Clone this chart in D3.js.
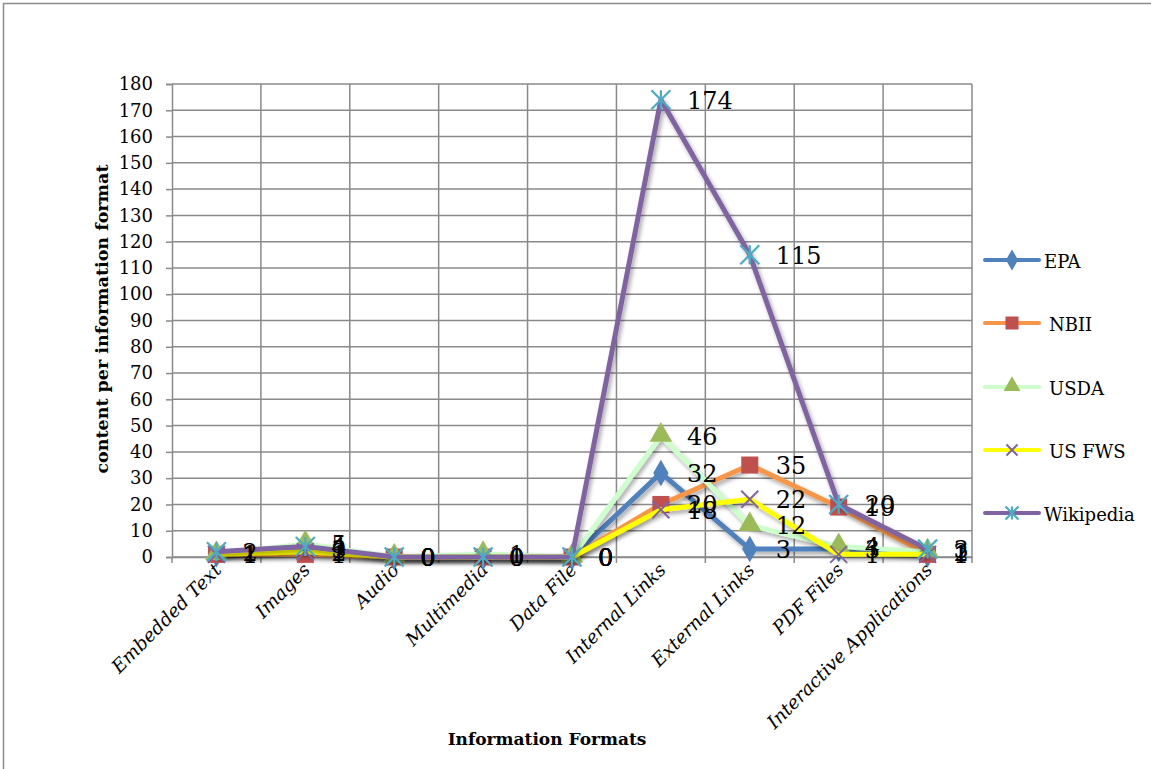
<!DOCTYPE html>
<html><head><meta charset="utf-8">
<script src="https://cdn.jsdelivr.net/npm/d3@7"></script>
<style>html,body{margin:0;padding:0;background:#fff;}svg{display:block;}</style>
</head><body>
<svg id="chart" width="1151" height="769"></svg>
<script>
const categories = ["Embedded Text","Images","Audio","Multimedia","Data File","Internal Links","External Links","PDF Files","Interactive Applications"];
const epa       = [1, 3, 0, 0, 0, 32, 3, 3, 1];
const nbii      = [1, 1, 0, 0, 0, 20, 35, 19, 1];
const usda      = [1, 5, 0, 1, 0, 46, 12, 4, 2];
const usfws     = [1, 2, 0, 0, 0, 18, 22, 1, 1];
const wikipedia = [2, 4, 0, 0, 0, 174, 115, 20, 3];
const yTicks = [0,10,20,30,40,50,60,70,80,90,100,110,120,130,140,150,160,170,180];

const series = [
  {name:"EPA", values:epa, line:"#4F81BD", mfill:"#4F81BD", marker:"diamond"},
  {name:"NBII", values:nbii, line:"#F79646", mfill:"#C0504D", marker:"square"},
  {name:"USDA", values:usda, line:"#CCFFCC", mfill:"#9BBB59", marker:"triangle"},
  {name:"US FWS", values:usfws, line:"#FFFF00", mfill:"#8064A2", marker:"x"},
  {name:"Wikipedia", values:wikipedia, line:"#8064A2", mfill:"#4BACC6", marker:"star"}
];

const svg = d3.select("#chart");
const font = "'DejaVu Serif', serif";
const L = 172, R = 972, T = 84, B = 557;

const defs = svg.append("defs");
const f = defs.append("filter").attr("id","sh").attr("x","-20%").attr("y","-20%").attr("width","140%").attr("height","140%");
f.append("feDropShadow").attr("dx",2).attr("dy",3).attr("stdDeviation",2.2).attr("flood-color","#000").attr("flood-opacity",0.35);

// outer border
svg.append("rect").attr("x",3.5).attr("y",3.5).attr("width",1200).attr("height",900)
  .attr("fill","none").attr("stroke","#8c8c8c").attr("stroke-width",1.5);

const x = d3.scaleBand().domain(categories).range([L,R]);
const y = d3.scaleLinear().domain([0,180]).range([B,T]);
const cx = c => x(c) + x.bandwidth()/2;

const grid = svg.append("g").attr("stroke","#8a8a8a").attr("stroke-width",1.5);
yTicks.forEach(t => grid.append("line").attr("x1",L).attr("x2",R).attr("y1",y(t)).attr("y2",y(t)));
categories.forEach(c => grid.append("line").attr("x1",x(c)+x.bandwidth()).attr("x2",x(c)+x.bandwidth()).attr("y1",T).attr("y2",B+6));

// y axis
const ya = svg.append("g").attr("transform",`translate(${L},0)`)
  .call(d3.axisLeft(y).tickValues(yTicks).tickSize(6).tickPadding(13));
ya.select(".domain").attr("stroke","#8a8a8a").attr("stroke-width",1.5);
ya.selectAll(".tick line").attr("stroke","#8a8a8a").attr("stroke-width",1.5);
ya.selectAll(".tick text").attr("font-family",font).attr("font-size",18).attr("fill","#000");

// x axis
const xa = svg.append("g").attr("transform",`translate(0,${B})`).call(d3.axisBottom(x).tickSize(0).tickFormat(""));
xa.select(".domain").attr("stroke","#8a8a8a").attr("stroke-width",1.5);
svg.append("line").attr("x1",L).attr("x2",L).attr("y1",B).attr("y2",B+6).attr("stroke","#8a8a8a").attr("stroke-width",1.5);

svg.append("g").selectAll("text").data(categories).join("text")
  .attr("transform", d => `translate(${cx(d)+6},${B+14}) rotate(-45)`)
  .attr("text-anchor","end").attr("font-family",font).attr("font-style","italic")
  .attr("font-size",18.5).attr("fill","#000").text(d => d);

// axis titles
svg.append("text").attr("x",547).attr("y",745).attr("text-anchor","middle")
  .attr("font-family",font).attr("font-weight","bold").attr("font-size",17).text("Information Formats");
svg.append("text").attr("transform","translate(108,319) rotate(-90)").attr("text-anchor","middle")
  .attr("font-family",font).attr("font-weight","bold").attr("font-size",17.5).text("content per information format");

function marker(g, type, fill, px, py, s) {
  if (type==="diamond") g.append("path").attr("d", d3.symbol(d3.symbolDiamond, s*s*0.9)()).attr("transform",`translate(${px},${py})`).attr("fill",fill);
  else if (type==="square") g.append("rect").attr("x",px-s/2).attr("y",py-s/2).attr("width",s).attr("height",s).attr("fill",fill);
  else if (type==="triangle") g.append("path").attr("d", d3.symbol(d3.symbolTriangle, s*s*0.55)()).attr("transform",`translate(${px},${py-1})`).attr("fill",fill);
  else if (type==="x") {
    const h = s/2;
    g.append("path").attr("d",`M${px-h},${py-h}L${px+h},${py+h}M${px-h},${py+h}L${px+h},${py-h}`)
      .attr("stroke",fill).attr("stroke-width",2).attr("fill","none");
  }
  else if (type==="star") {
    const h = s/2;
    const p = `M${px-h},${py-h}L${px+h},${py+h}M${px-h},${py+h}L${px+h},${py-h}M${px},${py-h}L${px},${py+h}`;
    g.append("path").attr("d",p).attr("stroke",fill).attr("stroke-width",2.2).attr("fill","none");
  }
}
const msize = {diamond:15, square:17, triangle:20, x:17, star:19};

const line = d3.line().x((d,i)=>cx(categories[i])).y(d=>y(d));
series.forEach(s => {
  const g = svg.append("g");
  g.append("path").datum(s.values).attr("d",line).attr("fill","none")
    .attr("stroke",s.line).attr("stroke-width",5).attr("stroke-linejoin","round").attr("filter","url(#sh)");
  s.values.forEach((v,i) => marker(g, s.marker, s.mfill, cx(categories[i]), y(v), msize[s.marker]));
});
// data labels
series.forEach(s => {
  svg.append("g").selectAll("text").data(s.values).join("text")
    .attr("x",(d,i)=>cx(categories[i])+26).attr("y",d=>y(d)+1)
    .attr("dominant-baseline","central").attr("font-family",font).attr("font-size",24)
    .attr("fill","#000").text(d=>d);
});

// legend
const lg = svg.append("g");
const ly = [260,323,387,450,513];
const lsize = {diamond:12, square:13, triangle:15, x:11, star:13};
series.forEach((s,i) => {
  lg.append("line").attr("x1",985).attr("x2",1039).attr("y1",ly[i]).attr("y2",ly[i])
    .attr("stroke",s.line).attr("stroke-width",4).attr("stroke-linecap","round");
  marker(lg, s.marker, s.mfill, 1012, ly[i], lsize[s.marker]);
  lg.append("text").attr("x", s.name==="EPA"||s.name==="Wikipedia" ? 1044 : 1049).attr("y",ly[i]+1)
    .attr("dominant-baseline","central").attr("font-family",font).attr("font-size",18).text(s.name);
});
</script>
</body></html>
